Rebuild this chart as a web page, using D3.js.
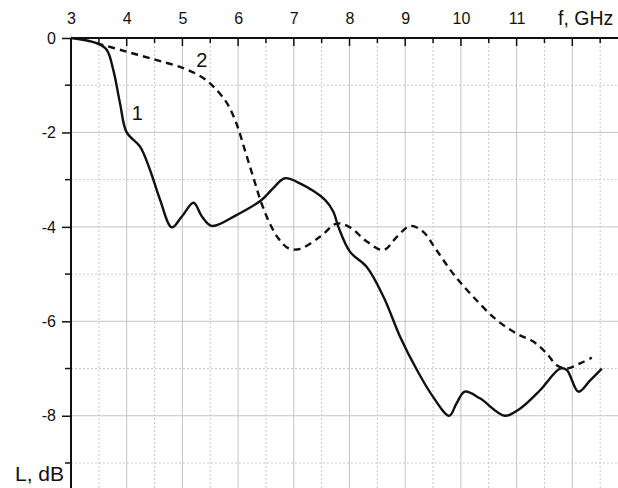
<!DOCTYPE html>
<html>
<head>
<meta charset="utf-8">
<script src="https://cdn.jsdelivr.net/npm/d3@7"></script>
<style>
  html, body { margin: 0; padding: 0; background: #fff; }
  svg { display: block; }
  text { font-family: "Liberation Sans", Arial, sans-serif; fill: #111; }
</style>
</head>
<body>
<svg id="chart" width="618" height="488"></svg>
<script>
// ---- data ----
const freqTicks = [3, 4, 5, 6, 7, 8, 9, 10, 11];
const lossTicks = [0, -2, -4, -6, -8];
const xLabel = "f, GHz";
const yLabel = "L, dB";

const curve1F = [3.0, 3.46, 3.64, 3.76, 3.88, 4.0, 4.24, 4.42, 4.6, 4.81, 4.99, 5.2, 5.35, 5.53, 5.97, 6.42, 6.63, 6.84, 7.11, 7.56, 7.71, 7.8, 8.01, 8.31, 8.61, 8.91, 9.21, 9.5, 9.79, 9.92, 10.07, 10.34, 10.79, 11.06, 11.42, 11.78, 11.9, 12.11, 12.32, 12.53];
const curve1L = [0, -0.11, -0.25, -0.68, -1.38, -2.0, -2.3, -2.8, -3.43, -4.01, -3.78, -3.49, -3.78, -3.98, -3.75, -3.43, -3.18, -2.97, -3.08, -3.43, -3.68, -4.0, -4.53, -4.85, -5.48, -6.33, -7.03, -7.6, -8.0, -7.74, -7.49, -7.63, -8.0, -7.85, -7.46, -7.0, -7.03, -7.49, -7.25, -7.0];

const curve2F = [3.46, 4.0, 4.54, 5.02, 5.38, 5.59, 5.8, 5.97, 6.12, 6.27, 6.42, 6.57, 6.72, 6.9, 7.1, 7.47, 7.77, 8.01, 8.31, 8.61, 8.85, 9.09, 9.32, 9.56, 9.86, 10.22, 10.64, 11.0, 11.3, 11.54, 11.72, 11.9, 12.14, 12.35];
const curve2L = [-0.11, -0.29, -0.47, -0.64, -0.85, -1.07, -1.38, -1.81, -2.37, -2.94, -3.5, -3.93, -4.24, -4.45, -4.47, -4.21, -3.93, -4.01, -4.31, -4.49, -4.21, -3.98, -4.1, -4.49, -4.99, -5.48, -5.97, -6.26, -6.43, -6.68, -6.93, -7.0, -6.89, -6.77];

const seriesLabels = [
  { text: "1", f: 4.19, L: -1.74 },
  { text: "2", f: 5.35, L: -0.61 }
];

// ---- layout ----
const svg = d3.select("#chart");
const W = 618, H = 488;
const x = d3.scaleLinear().domain([3, 12.82]).range([71, 618]);
const y = d3.scaleLinear().domain([0, -9.53]).range([38, 488]);
const FONT = "Liberation Sans, Arial, sans-serif";

// grid
const g = svg.append("g");
const halfF = d3.range(3.5, 12.8, 1);
const intF = d3.range(4, 12.8, 1);
g.selectAll(".gvd").data(halfF).enter().append("line")
  .attr("x1", d => x(d)).attr("x2", d => x(d))
  .attr("y1", y(0)).attr("y2", H)
  .attr("stroke", "#c8c8c8").attr("stroke-width", 1).attr("stroke-dasharray", "2,2");
g.selectAll(".gvs").data(intF).enter().append("line")
  .attr("x1", d => x(d)).attr("x2", d => x(d))
  .attr("y1", y(0)).attr("y2", H)
  .attr("stroke", "#c4c4c4").attr("stroke-width", 1);
const oddL = [-1, -3, -5, -7, -9];
const evenL = [-2, -4, -6, -8];
g.selectAll(".ghd").data(oddL).enter().append("line")
  .attr("x1", x(3)).attr("x2", W)
  .attr("y1", d => y(d)).attr("y2", d => y(d))
  .attr("stroke", "#c8c8c8").attr("stroke-width", 1).attr("stroke-dasharray", "2,2");
g.selectAll(".ghs").data(evenL).enter().append("line")
  .attr("x1", x(3)).attr("x2", W)
  .attr("y1", d => y(d)).attr("y2", d => y(d))
  .attr("stroke", "#c4c4c4").attr("stroke-width", 1);

// axes
const topAxis = d3.axisTop(x).tickValues(freqTicks).tickSize(0).tickPadding(14);
const ta = svg.append("g").attr("transform", `translate(0,${y(0)})`).call(topAxis);
ta.select(".domain").remove();
ta.selectAll("text").style("font-size", "16px").style("font-family", FONT).attr("fill", "#111");
// top axis line + inward ticks
svg.append("line").attr("x1", x(3)).attr("x2", W).attr("y1", y(0)).attr("y2", y(0))
  .attr("stroke", "#111").attr("stroke-width", 2);
svg.selectAll(".tmaj").data(intF).enter().append("line")
  .attr("x1", d => x(d)).attr("x2", d => x(d)).attr("y1", y(0)).attr("y2", y(0) + 8)
  .attr("stroke", "#111").attr("stroke-width", 1.5);
svg.selectAll(".tmin").data(halfF).enter().append("line")
  .attr("x1", d => x(d)).attr("x2", d => x(d)).attr("y1", y(0)).attr("y2", y(0) + 5)
  .attr("stroke", "#111").attr("stroke-width", 1.5);

const leftAxis = d3.axisLeft(y).tickValues(lossTicks).tickSize(9).tickPadding(6)
  .tickFormat(d => d === 0 ? "0" : String(d));
const la = svg.append("g").attr("transform", `translate(${x(3)},0)`).call(leftAxis);
la.select(".domain").remove();
la.selectAll("line").attr("stroke", "#111").attr("stroke-width", 1.5);
la.selectAll("text").style("font-size", "16px").style("font-family", FONT).attr("fill", "#111");
svg.selectAll(".lmin").data(oddL).enter().append("line")
  .attr("x1", x(3) - 6).attr("x2", x(3)).attr("y1", d => y(d)).attr("y2", d => y(d))
  .attr("stroke", "#111").attr("stroke-width", 1.5);
svg.append("line").attr("x1", x(3)).attr("x2", x(3)).attr("y1", y(0)).attr("y2", H)
  .attr("stroke", "#111").attr("stroke-width", 2);

// axis titles
svg.append("text").attr("x", 558).attr("y", 25).text(xLabel)
  .style("font-size", "19.5px");
svg.append("text").attr("x", x(3) - 7).attr("y", 481).attr("text-anchor", "end").text(yLabel)
  .style("font-size", "21px");

// curves
const line = d3.line().curve(d3.curveCatmullRom.alpha(0.5)).x(d => x(d[0])).y(d => y(d[1]));
const d1 = curve1F.map((f, i) => [f, curve1L[i]]);
const d2 = curve2F.map((f, i) => [f, curve2L[i]]);
svg.append("path").datum(d2).attr("d", line).attr("fill", "none")
  .attr("stroke", "#111").attr("stroke-width", 2.4).attr("stroke-dasharray", "7,5");
svg.append("path").datum(d1).attr("d", line).attr("fill", "none")
  .attr("stroke", "#111").attr("stroke-width", 2.4);

// series labels
svg.selectAll(".sl").data(seriesLabels).enter().append("text")
  .attr("x", d => x(d.f)).attr("y", d => y(d.L)).attr("text-anchor", "middle")
  .style("font-size", "20px").text(d => d.text);
</script>
</body>
</html>
